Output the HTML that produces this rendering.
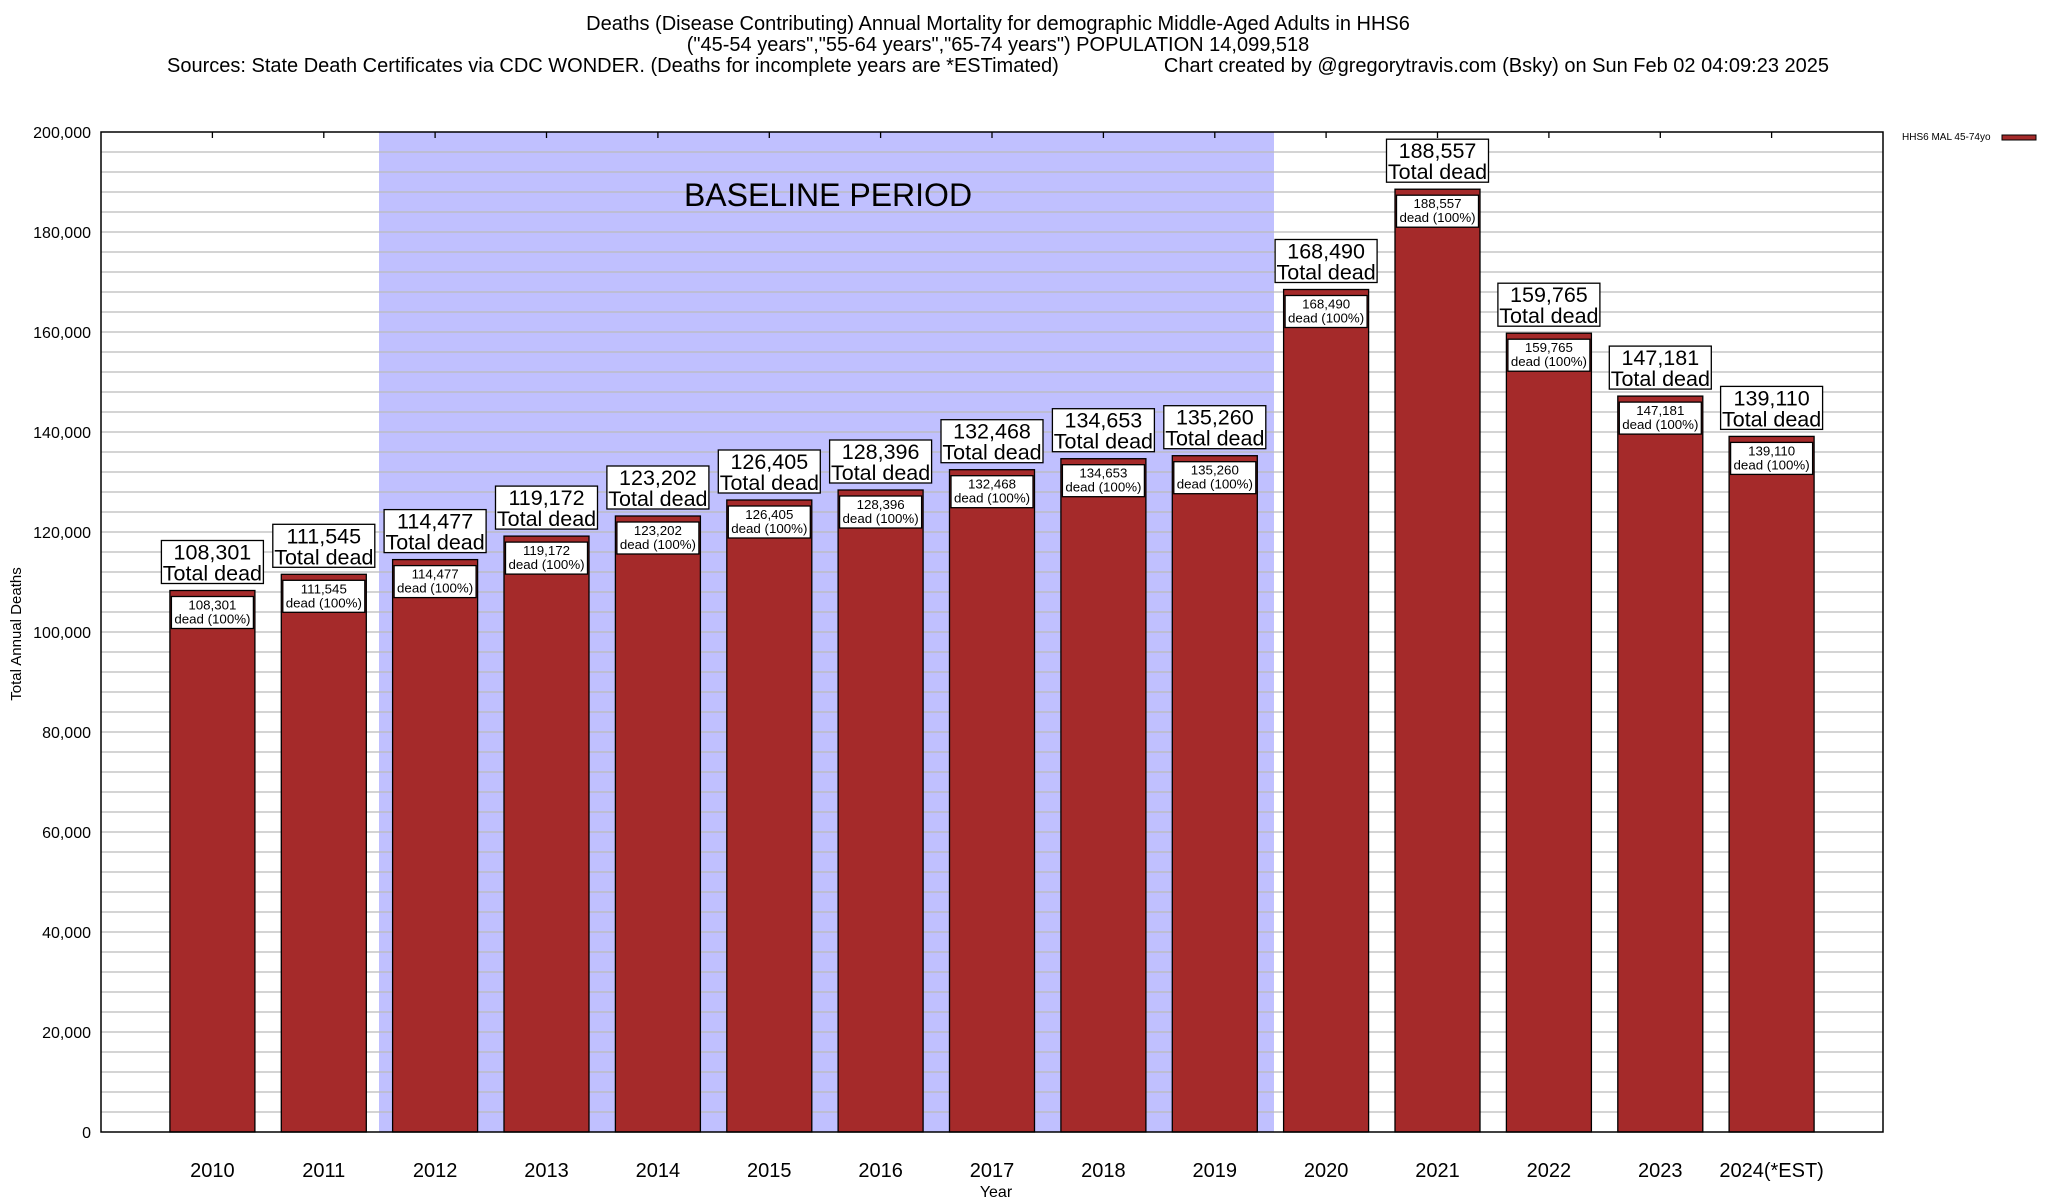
<!DOCTYPE html>
<html><head><meta charset="utf-8"><style>
html,body{margin:0;padding:0;background:#fff}
svg{display:block;font-family:"Liberation Sans",sans-serif}
</style></head><body>
<svg width="2048" height="1200" viewBox="0 0 2048 1200" xmlns="http://www.w3.org/2000/svg">
<rect width="2048" height="1200" fill="#fff"/>
<g font-size="20" text-anchor="middle" fill="#000">
<text x="998" y="30">Deaths (Disease Contributing) Annual Mortality for demographic Middle-Aged Adults in HHS6</text>
<text x="998" y="51">("45-54 years","55-64 years","65-74 years") POPULATION 14,099,518</text>
<text x="167" y="72" text-anchor="start">Sources: State Death Certificates via CDC WONDER. (Deaths for incomplete years are *ESTimated)</text>
<text x="1829" y="72" text-anchor="end">Chart created by @gregorytravis.com (Bsky) on Sun Feb 02 04:09:23 2025</text>
</g>
<rect x="379" y="132" width="895" height="1000" fill="#c0c0ff"/>
<g stroke="#bbb" stroke-width="1.3">
<line x1="101" x2="1883" y1="152" y2="152"/><line x1="101" x2="1883" y1="172" y2="172"/><line x1="101" x2="1883" y1="192" y2="192"/><line x1="101" x2="1883" y1="212" y2="212"/><line x1="101" x2="1883" y1="232" y2="232"/>
<line x1="101" x2="1883" y1="252" y2="252"/><line x1="101" x2="1883" y1="272" y2="272"/><line x1="101" x2="1883" y1="292" y2="292"/><line x1="101" x2="1883" y1="312" y2="312"/><line x1="101" x2="1883" y1="332" y2="332"/>
<line x1="101" x2="1883" y1="352" y2="352"/><line x1="101" x2="1883" y1="372" y2="372"/><line x1="101" x2="1883" y1="392" y2="392"/><line x1="101" x2="1883" y1="412" y2="412"/><line x1="101" x2="1883" y1="432" y2="432"/>
<line x1="101" x2="1883" y1="452" y2="452"/><line x1="101" x2="1883" y1="472" y2="472"/><line x1="101" x2="1883" y1="492" y2="492"/><line x1="101" x2="1883" y1="512" y2="512"/><line x1="101" x2="1883" y1="532" y2="532"/>
<line x1="101" x2="1883" y1="552" y2="552"/><line x1="101" x2="1883" y1="572" y2="572"/><line x1="101" x2="1883" y1="592" y2="592"/><line x1="101" x2="1883" y1="612" y2="612"/><line x1="101" x2="1883" y1="632" y2="632"/>
<line x1="101" x2="1883" y1="652" y2="652"/><line x1="101" x2="1883" y1="672" y2="672"/><line x1="101" x2="1883" y1="692" y2="692"/><line x1="101" x2="1883" y1="712" y2="712"/><line x1="101" x2="1883" y1="732" y2="732"/>
<line x1="101" x2="1883" y1="752" y2="752"/><line x1="101" x2="1883" y1="772" y2="772"/><line x1="101" x2="1883" y1="792" y2="792"/><line x1="101" x2="1883" y1="812" y2="812"/><line x1="101" x2="1883" y1="832" y2="832"/>
<line x1="101" x2="1883" y1="852" y2="852"/><line x1="101" x2="1883" y1="872" y2="872"/><line x1="101" x2="1883" y1="892" y2="892"/><line x1="101" x2="1883" y1="912" y2="912"/><line x1="101" x2="1883" y1="932" y2="932"/>
<line x1="101" x2="1883" y1="952" y2="952"/><line x1="101" x2="1883" y1="972" y2="972"/><line x1="101" x2="1883" y1="992" y2="992"/><line x1="101" x2="1883" y1="1012" y2="1012"/><line x1="101" x2="1883" y1="1032" y2="1032"/>
<line x1="101" x2="1883" y1="1052" y2="1052"/><line x1="101" x2="1883" y1="1072" y2="1072"/><line x1="101" x2="1883" y1="1092" y2="1092"/><line x1="101" x2="1883" y1="1112" y2="1112"/>
</g>
<text x="828" y="206" font-size="32" text-anchor="middle">BASELINE PERIOD</text>
<g stroke="#000" stroke-width="1.3">
<line x1="212.4" x2="212.4" y1="132" y2="138"/><line x1="323.8" x2="323.8" y1="132" y2="138"/><line x1="435.1" x2="435.1" y1="132" y2="138"/><line x1="546.5" x2="546.5" y1="132" y2="138"/><line x1="657.9" x2="657.9" y1="132" y2="138"/><line x1="769.3" x2="769.3" y1="132" y2="138"/><line x1="880.6" x2="880.6" y1="132" y2="138"/><line x1="992" x2="992" y1="132" y2="138"/><line x1="1103.4" x2="1103.4" y1="132" y2="138"/><line x1="1214.8" x2="1214.8" y1="132" y2="138"/><line x1="1326.1" x2="1326.1" y1="132" y2="138"/><line x1="1437.5" x2="1437.5" y1="132" y2="138"/><line x1="1548.9" x2="1548.9" y1="132" y2="138"/><line x1="1660.3" x2="1660.3" y1="132" y2="138"/><line x1="1771.6" x2="1771.6" y1="132" y2="138"/>
</g>
<g font-size="16" text-anchor="end">
<text x="91" y="138">200,000</text><text x="91" y="238">180,000</text><text x="91" y="338">160,000</text><text x="91" y="438">140,000</text><text x="91" y="538">120,000</text><text x="91" y="638">100,000</text><text x="91" y="738">80,000</text><text x="91" y="838">60,000</text><text x="91" y="938">40,000</text><text x="91" y="1038">20,000</text><text x="91" y="1138">0</text>
</g>
<text transform="translate(21,634) rotate(-90)" font-size="15" text-anchor="middle">Total Annual Deaths</text>
<g font-size="20" text-anchor="middle">
<text x="212.4" y="1177">2010</text><text x="323.8" y="1177">2011</text><text x="435.1" y="1177">2012</text><text x="546.5" y="1177">2013</text><text x="657.9" y="1177">2014</text><text x="769.3" y="1177">2015</text><text x="880.6" y="1177">2016</text><text x="992" y="1177">2017</text><text x="1103.4" y="1177">2018</text><text x="1214.8" y="1177">2019</text><text x="1326.1" y="1177">2020</text><text x="1437.5" y="1177">2021</text><text x="1548.9" y="1177">2022</text><text x="1660.3" y="1177">2023</text><text x="1771.6" y="1177">2024(*EST)</text>
</g>
<text x="996" y="1197" font-size="16" text-anchor="middle">Year</text>

<g id="bars" stroke="#000" stroke-width="1.3">
<g transform="translate(212.4,590.5)"><rect x="-42.5" y="0" width="85" height="541.5" fill="#a52a2a"/><rect x="-41" y="6" width="82" height="32" fill="#fff"/><rect x="-51" y="-50" width="102" height="43" fill="#fff"/></g>
<g transform="translate(323.8,574.3)"><rect x="-42.5" y="0" width="85" height="557.7" fill="#a52a2a"/><rect x="-41" y="6" width="82" height="32" fill="#fff"/><rect x="-51" y="-50" width="102" height="43" fill="#fff"/></g>
<g transform="translate(435.1,559.6)"><rect x="-42.5" y="0" width="85" height="572.4" fill="#a52a2a"/><rect x="-41" y="6" width="82" height="32" fill="#fff"/><rect x="-51" y="-50" width="102" height="43" fill="#fff"/></g>
<g transform="translate(546.5,536.1)"><rect x="-42.5" y="0" width="85" height="595.9" fill="#a52a2a"/><rect x="-41" y="6" width="82" height="32" fill="#fff"/><rect x="-51" y="-50" width="102" height="43" fill="#fff"/></g>
<g transform="translate(657.9,516)"><rect x="-42.5" y="0" width="85" height="616" fill="#a52a2a"/><rect x="-41" y="6" width="82" height="32" fill="#fff"/><rect x="-51" y="-50" width="102" height="43" fill="#fff"/></g>
<g transform="translate(769.3,500)"><rect x="-42.5" y="0" width="85" height="632" fill="#a52a2a"/><rect x="-41" y="6" width="82" height="32" fill="#fff"/><rect x="-51" y="-50" width="102" height="43" fill="#fff"/></g>
<g transform="translate(880.6,490)"><rect x="-42.5" y="0" width="85" height="642" fill="#a52a2a"/><rect x="-41" y="6" width="82" height="32" fill="#fff"/><rect x="-51" y="-50" width="102" height="43" fill="#fff"/></g>
<g transform="translate(992,469.7)"><rect x="-42.5" y="0" width="85" height="662.3" fill="#a52a2a"/><rect x="-41" y="6" width="82" height="32" fill="#fff"/><rect x="-51" y="-50" width="102" height="43" fill="#fff"/></g>
<g transform="translate(1103.4,458.7)"><rect x="-42.5" y="0" width="85" height="673.3" fill="#a52a2a"/><rect x="-41" y="6" width="82" height="32" fill="#fff"/><rect x="-51" y="-50" width="102" height="43" fill="#fff"/></g>
<g transform="translate(1214.8,455.7)"><rect x="-42.5" y="0" width="85" height="676.3" fill="#a52a2a"/><rect x="-41" y="6" width="82" height="32" fill="#fff"/><rect x="-51" y="-50" width="102" height="43" fill="#fff"/></g>
<g transform="translate(1326.1,289.5)"><rect x="-42.5" y="0" width="85" height="842.5" fill="#a52a2a"/><rect x="-41" y="6" width="82" height="32" fill="#fff"/><rect x="-51" y="-50" width="102" height="43" fill="#fff"/></g>
<g transform="translate(1437.5,189.2)"><rect x="-42.5" y="0" width="85" height="942.8" fill="#a52a2a"/><rect x="-41" y="6" width="82" height="32" fill="#fff"/><rect x="-51" y="-50" width="102" height="43" fill="#fff"/></g>
<g transform="translate(1548.9,333.2)"><rect x="-42.5" y="0" width="85" height="798.8" fill="#a52a2a"/><rect x="-41" y="6" width="82" height="32" fill="#fff"/><rect x="-51" y="-50" width="102" height="43" fill="#fff"/></g>
<g transform="translate(1660.3,396.1)"><rect x="-42.5" y="0" width="85" height="735.9" fill="#a52a2a"/><rect x="-41" y="6" width="82" height="32" fill="#fff"/><rect x="-51" y="-50" width="102" height="43" fill="#fff"/></g>
<g transform="translate(1771.6,436.4)"><rect x="-42.5" y="0" width="85" height="695.6" fill="#a52a2a"/><rect x="-41" y="6" width="82" height="32" fill="#fff"/><rect x="-51" y="-50" width="102" height="43" fill="#fff"/></g>
</g>
<g text-anchor="middle">
<g transform="translate(212.4,590.5)"><text y="-31" font-size="21.5">108,301</text><text y="-10" font-size="21.5">Total dead</text><text y="19" font-size="13.3">108,301</text><text y="33" font-size="13.3">dead (100%)</text></g>
<g transform="translate(323.8,574.3)"><text y="-31" font-size="21.5">111,545</text><text y="-10" font-size="21.5">Total dead</text><text y="19" font-size="13.3">111,545</text><text y="33" font-size="13.3">dead (100%)</text></g>
<g transform="translate(435.1,559.6)"><text y="-31" font-size="21.5">114,477</text><text y="-10" font-size="21.5">Total dead</text><text y="19" font-size="13.3">114,477</text><text y="33" font-size="13.3">dead (100%)</text></g>
<g transform="translate(546.5,536.1)"><text y="-31" font-size="21.5">119,172</text><text y="-10" font-size="21.5">Total dead</text><text y="19" font-size="13.3">119,172</text><text y="33" font-size="13.3">dead (100%)</text></g>
<g transform="translate(657.9,516)"><text y="-31" font-size="21.5">123,202</text><text y="-10" font-size="21.5">Total dead</text><text y="19" font-size="13.3">123,202</text><text y="33" font-size="13.3">dead (100%)</text></g>
<g transform="translate(769.3,500)"><text y="-31" font-size="21.5">126,405</text><text y="-10" font-size="21.5">Total dead</text><text y="19" font-size="13.3">126,405</text><text y="33" font-size="13.3">dead (100%)</text></g>
<g transform="translate(880.6,490)"><text y="-31" font-size="21.5">128,396</text><text y="-10" font-size="21.5">Total dead</text><text y="19" font-size="13.3">128,396</text><text y="33" font-size="13.3">dead (100%)</text></g>
<g transform="translate(992,469.7)"><text y="-31" font-size="21.5">132,468</text><text y="-10" font-size="21.5">Total dead</text><text y="19" font-size="13.3">132,468</text><text y="33" font-size="13.3">dead (100%)</text></g>
<g transform="translate(1103.4,458.7)"><text y="-31" font-size="21.5">134,653</text><text y="-10" font-size="21.5">Total dead</text><text y="19" font-size="13.3">134,653</text><text y="33" font-size="13.3">dead (100%)</text></g>
<g transform="translate(1214.8,455.7)"><text y="-31" font-size="21.5">135,260</text><text y="-10" font-size="21.5">Total dead</text><text y="19" font-size="13.3">135,260</text><text y="33" font-size="13.3">dead (100%)</text></g>
<g transform="translate(1326.1,289.5)"><text y="-31" font-size="21.5">168,490</text><text y="-10" font-size="21.5">Total dead</text><text y="19" font-size="13.3">168,490</text><text y="33" font-size="13.3">dead (100%)</text></g>
<g transform="translate(1437.5,189.2)"><text y="-31" font-size="21.5">188,557</text><text y="-10" font-size="21.5">Total dead</text><text y="19" font-size="13.3">188,557</text><text y="33" font-size="13.3">dead (100%)</text></g>
<g transform="translate(1548.9,333.2)"><text y="-31" font-size="21.5">159,765</text><text y="-10" font-size="21.5">Total dead</text><text y="19" font-size="13.3">159,765</text><text y="33" font-size="13.3">dead (100%)</text></g>
<g transform="translate(1660.3,396.1)"><text y="-31" font-size="21.5">147,181</text><text y="-10" font-size="21.5">Total dead</text><text y="19" font-size="13.3">147,181</text><text y="33" font-size="13.3">dead (100%)</text></g>
<g transform="translate(1771.6,436.4)"><text y="-31" font-size="21.5">139,110</text><text y="-10" font-size="21.5">Total dead</text><text y="19" font-size="13.3">139,110</text><text y="33" font-size="13.3">dead (100%)</text></g>
</g>
<rect x="101" y="132" width="1782" height="1000" fill="none" stroke="#000" stroke-width="1.5"/>
<text x="1902" y="140" font-size="10">HHS6 MAL 45-74yo</text>
<rect x="2002" y="135" width="34" height="5" fill="#a52a2a" stroke="#000" stroke-width="1"/>
</svg>
</body></html>
